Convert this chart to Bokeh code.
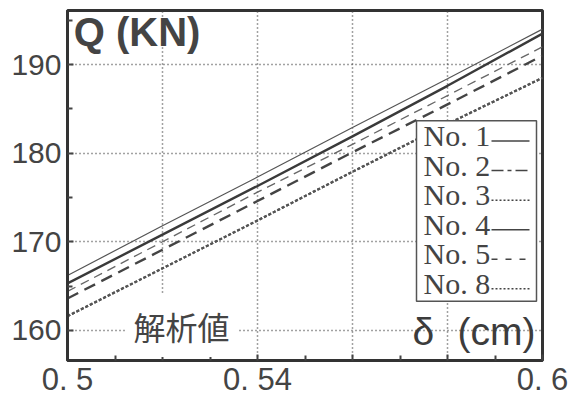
from bokeh.plotting import figure
from bokeh.models import FixedTicker, Label, BoxAnnotation, Arrow, Range1d
from bokeh.embed import file_html
from bokeh.resources import INLINE

# ---- data ----
delta = [0.50, 0.52, 0.54, 0.56, 0.58, 0.60]
q_no1 = [166.2, 171.8, 177.3, 182.9, 188.4, 194.0]
q_no2 = [164.4, 170.0, 175.6, 181.0, 186.5, 192.0]
q_no3 = [161.6, 167.0, 172.4, 177.9, 183.3, 188.5]
q_no4 = [165.3, 170.8, 176.3, 181.9, 187.6, 193.5]
q_no5 = [163.6, 169.1, 174.6, 180.1, 185.5, 191.0]
q_no8 = [161.6, 167.0, 172.4, 177.9, 183.3, 188.5]

x_ticks = [0.50, 0.52, 0.54, 0.56, 0.58, 0.60]
x_minor = [0.51, 0.53, 0.55, 0.57, 0.59]
x_labels = {0.5: "0. 5", 0.54: "0. 54", 0.6: "0. 6"}
y_ticks = [160, 170, 180, 190]
y_minor = [165, 175, 185, 195]
legend_names = ["No. 1", "No. 2", "No. 3", "No. 4", "No. 5", "No. 8"]

X0, X1 = 0.5, 0.6
Y0, Y1 = 156.6, 196.1
FW, FH = 475.0, 352.7   # frame size in px


def fx(px):  # px offset from frame left -> data x
    return X0 + px / FW * (X1 - X0)


def fy(py):  # px offset from frame top -> data y
    return Y1 - py / FH * (Y1 - Y0)


p = figure(width=569, height=399, output_backend="svg", toolbar_location=None,
           x_range=Range1d(X0, X1), y_range=Range1d(Y0, Y1),
           min_border_left=67, min_border_right=27, min_border_top=10,
           min_border_bottom=36)
p.background_fill_color = "white"
p.border_fill_color = "white"
p.outline_line_color = "#333333"
p.outline_line_width = 3

for ax in (p.xaxis[0], p.yaxis[0]):
    ax.axis_line_width = 3
    ax.axis_line_color = "#333333"
    ax.major_tick_in = 6
    ax.major_tick_out = 0
    ax.minor_tick_in = 5
    ax.minor_tick_out = 0
    ax.major_tick_line_color = "#444444"
    ax.minor_tick_line_color = "#444444"
    ax.major_tick_line_width = 2
    ax.minor_tick_line_width = 2
    ax.major_label_text_font = "Liberation Sans"
    ax.major_label_text_color = "#444444"

p.xaxis.ticker = FixedTicker(ticks=x_ticks, minor_ticks=x_minor)
p.xaxis.major_label_overrides = {t: x_labels.get(round(t, 2), "") for t in x_ticks}
p.xaxis.major_label_text_font_size = "31px"
p.xaxis.major_label_standoff = 1
p.yaxis.ticker = FixedTicker(ticks=y_ticks, minor_ticks=y_minor)
p.yaxis.major_label_text_font_size = "30px"
p.yaxis.major_label_standoff = 6

for g in (p.xgrid[0], p.ygrid[0]):
    g.grid_line_color = "#444444"
    g.grid_line_dash = "1 3"
    g.grid_line_width = 1.5
p.xgrid.ticker = FixedTicker(ticks=x_ticks)
p.ygrid.ticker = FixedTicker(ticks=y_ticks)

styles = [
    (q_no1, "#555555", 1.2, "solid"),
    (q_no2, "#666666", 1.3, "9 6"),
    (q_no3, "#555555", 2.2, "3 2"),
    (q_no4, "#3a3a3a", 2.4, "solid"),
    (q_no5, "#444444", 2.4, "12 7"),
    (q_no8, "#555555", 2.2, "3 2"),
]
for ys, c, w, d in styles:
    p.line(delta, ys, line_color=c, line_width=w, line_dash=d)

# axis titles inside the frame
p.add_layout(Label(x=fx(6.3), y=fy(22), text="Q (KN)", text_font="Liberation Sans",
                   text_font_size="40px", text_font_style="bold", text_color="#444444",
                   text_baseline="middle"))
p.add_layout(Label(x=fx(345), y=fy(323), text="δ", text_font="Liberation Sans",
                   text_font_size="39px", text_color="#3c3c3c",
                   text_baseline="middle"))
p.add_layout(Label(x=fx(390), y=fy(323), text="(cm)", text_font="Liberation Sans",
                   text_font_size="39px", text_color="#3c3c3c",
                   text_baseline="middle"))
p.add_layout(Label(x=fx(114), y=fy(318), text="解析値", text_font="Noto Sans CJK JP",
                   text_font_size="32px", text_color="#444444",
                   text_align="center", text_baseline="middle",
                   background_fill_color="white", padding=8))

# legend (text followed by line sample, as in the reference)
p.add_layout(BoxAnnotation(left=fx(349), right=fx(469), top=fy(111), bottom=fy(293),
                           fill_color="white", fill_alpha=1.0,
                           line_color="#555555", line_width=1.5, line_alpha=1.0))
leg_dash = ["solid", "12 4 4 4", "2 2", "solid", "6 8", "2 2"]
for i, name in enumerate(legend_names):
    mid = 126 + 29.8 * i
    p.add_layout(Label(x=fx(356), y=fy(mid), text=name, text_font="Liberation Serif",
                       text_font_size="30px", text_color="#444444",
                       text_baseline="middle"))
    p.add_layout(Arrow(x_start=fx(424), y_start=fy(mid + 5.5), x_end=fx(462),
                       y_end=fy(mid + 5.5), end=None, line_color="#444444",
                       line_width=1.5, line_dash=leg_dash[i]))

open("out.html", "w").write(file_html(p, INLINE))
